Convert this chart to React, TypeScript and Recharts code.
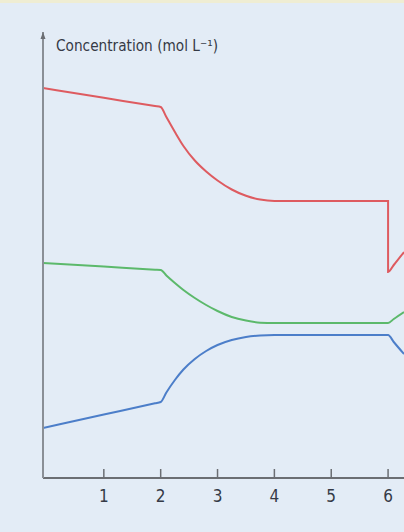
import { LineChart, Line, XAxis, YAxis } from "recharts";

// time axis (arbitrary units); 6 appears twice for the step change
const times = [-0.07, 1, 1.9, 2, 2.1, 2.25, 2.4, 2.6, 2.8, 3, 3.25, 3.5, 3.75, 4, 5, 5.9, 6, 6, 6.1, 6.28];
const redConc = [3.9, 3.802, 3.719, 3.71, 3.61, 3.46, 3.32, 3.175, 3.065, 2.975, 2.885, 2.822, 2.784, 2.77, 2.77, 2.77, 2.77, 2.06, 2.13, 2.26];
const greenConc = [2.15, 2.114, 2.083, 2.08, 2.025, 1.95, 1.88, 1.8, 1.73, 1.67, 1.61, 1.574, 1.553, 1.55, 1.55, 1.55, 1.55, 1.55, 1.59, 1.66];
const blueConc = [0.5, 0.634, 0.747, 0.76, 0.855, 0.98, 1.085, 1.19, 1.27, 1.33, 1.38, 1.41, 1.425, 1.43, 1.43, 1.43, 1.43, 1.43, 1.36, 1.24];
const xTicks = [1, 2, 3, 4, 5, 6];
const yLabel = "Concentration (mol L⁻¹)";

const data = times.map((t, i) => ({
  time: t,
  red: redConc[i],
  green: greenConc[i],
  blue: blueConc[i],
}));

const FONT = '"Liberation Sans Narrow", "DejaVu Sans Condensed", "Liberation Sans", sans-serif';
const AXIS = "#6b6e73";

function TimeTick({ x, y, payload }: any) {
  return (
    <g>
      <line x1={x} x2={x} y1={y} y2={y - 9} stroke={AXIS} strokeWidth={1.5} />
      <text
        x={x}
        y={y + 24}
        textAnchor="middle"
        fontFamily={FONT}
        fontSize={17}
        fill="#353a46"
      >
        {payload.value}
      </text>
    </g>
  );
}

function AxisTitle({ viewBox }: any) {
  const x = viewBox.x + viewBox.width;
  const y = viewBox.y;
  return (
    <g>
      <polygon points={`${x - 2.5},${y + 7} ${x},${y} ${x + 2.5},${y + 7}`} fill={AXIS} />
      <text
        x={x + 13}
        y={y + 19}
        fontFamily={FONT}
        fontSize={15}
        fill="#353a46"
        textLength={162}
        lengthAdjust="spacingAndGlyphs"
      >
        {yLabel}
      </text>
    </g>
  );
}

export default function App() {
  return (
    <div
      style={{
        position: "fixed",
        left: 0,
        top: 0,
        width: 404,
        height: 532,
        background: "#e3ecf6",
        overflow: "hidden",
      }}
    >
      <div style={{ height: 3, background: "#efedd3" }} />
      <div style={{ position: "absolute", left: 0, top: 0 }}>
        <LineChart
          width={404}
          height={532}
          data={data}
          margin={{ top: 32, right: 0, left: 33, bottom: 30 }}
        >
          <XAxis
            dataKey="time"
            type="number"
            domain={[-0.07, 6.28]}
            allowDataOverflow
            ticks={xTicks}
            height={24}
            tickSize={0}
            tickMargin={0}
            tickLine={false}
            tick={<TimeTick />}
            axisLine={{ stroke: AXIS, strokeWidth: 2 }}
          />
          <YAxis
            type="number"
            domain={[0, 4.46]}
            allowDataOverflow
            width={10}
            tick={false}
            tickLine={false}
            axisLine={{ stroke: "#8a8f96", strokeWidth: 2 }}
            label={{ content: (props: any) => <AxisTitle {...props} /> }}
          />
          <Line
            dataKey="red"
            type="monotone"
            stroke="#de5b60"
            strokeWidth={2}
            dot={false}
            isAnimationActive={false}
          />
          <Line
            dataKey="green"
            type="monotone"
            stroke="#5cb96b"
            strokeWidth={2}
            dot={false}
            isAnimationActive={false}
          />
          <Line
            dataKey="blue"
            type="monotone"
            stroke="#4c7ec9"
            strokeWidth={2}
            dot={false}
            isAnimationActive={false}
          />
        </LineChart>
      </div>
    </div>
  );
}
